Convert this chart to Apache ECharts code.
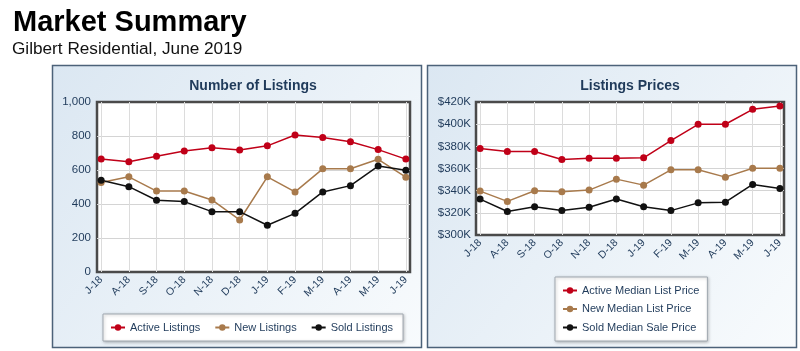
<!DOCTYPE html>
<html>
<head>
<meta charset="utf-8">
<script src="https://cdn.jsdelivr.net/npm/echarts@6/dist/echarts.min.js"></script>
<style>
  html, body { margin: 0; padding: 0; background: #fff; }
  #main { width: 800px; height: 351px; }
</style>
</head>
<body>
<div id="main"></div>
<script>
const months = ["J-18", "A-18", "S-18", "O-18", "N-18", "D-18", "J-19", "F-19", "M-19", "A-19", "M-19", "J-19"];

const activeListings = [664, 648, 681, 712, 731, 717, 742, 806, 791, 766, 720, 664];
const newListings = [527, 560, 476, 476, 424, 306, 560, 471, 607, 607, 663, 558];
const soldListings = [540, 502, 422, 414, 355, 355, 275, 345, 471, 508, 623, 598];

const activePrice = [378, 375.3, 375.3, 368.1, 369.3, 369.3, 369.6, 385.2, 399.9, 399.9, 413.4, 416.4];
const newPrice = [339.6, 330.3, 339.9, 339, 340.5, 350.4, 345, 358.8, 358.8, 352.2, 360.3, 360.3];
const soldPrice = [332.4, 321.2, 325.5, 322, 325, 332.4, 325.5, 322, 329, 329.6, 345.6, 342];

const RED = "#c00018";
const BROWN = "#a87a4c";
const BLACK = "#111111";
const NAVY = "#1f3a5a";
const FONT = "Liberation Sans";

const idx = months.map((m, i) => i);
const pairs = (arr) => arr.map((v, i) => [i, v]);

const chart = echarts.init(document.getElementById("main"));

function panel(x) {
  return {
    type: "rect",
    shape: { x: x, y: 65.5, width: 369, height: 282 },
    style: {
      fill: new echarts.graphic.LinearGradient(0, 0, 1, 1, [
        { offset: 0, color: "#dbe7f2" },
        { offset: 1, color: "#f8fbfd" },
      ]),
      stroke: "#4c6279",
      lineWidth: 1.5,
    },
    z: -10,
  };
}

function xAxisFor(grid) {
  return {
    type: "value",
    gridIndex: grid,
    min: -0.15,
    max: 11.15,
    axisLine: { show: false },
    axisTick: { show: false, customValues: idx },
    splitLine: { show: true, lineStyle: { color: "#dcdcdc" } },
    axisLabel: {
      customValues: idx,
      rotate: 45,
      color: NAVY,
      fontFamily: FONT,
      fontSize: 10.5,
      margin: 6,
      formatter: (v) => months[Math.round(v)],
    },
  };
}

function line(name, data, color, x, y) {
  return {
    name: name,
    type: "line",
    xAxisIndex: x,
    yAxisIndex: y,
    data: pairs(data),
    symbol: "circle",
    symbolSize: 7,
    lineStyle: { color: color, width: 1.5 },
    itemStyle: { color: color },
  };
}

const legendStyle = {
  backgroundColor: "#ffffff",
  borderColor: "#a0a8b0",
  borderWidth: 1,
  shadowColor: "rgba(0,0,0,0.25)",
  shadowBlur: 3,
  shadowOffsetX: 1,
  shadowOffsetY: 1,
  itemWidth: 14,
  itemHeight: 8,
  textStyle: { color: NAVY, fontFamily: FONT, fontSize: 11 },
};

const option = {
  animation: false,
  textStyle: { fontFamily: FONT },
  graphic: [panel(52.5), panel(427.5)],
  title: [
    {
      text: "Market Summary",
      left: 8,
      top: 3,
      textStyle: { fontSize: 29, fontWeight: "bold", color: "#000", fontFamily: FONT },
    },
    {
      text: "Gilbert Residential, June 2019",
      left: 7,
      top: 36,
      textStyle: { fontSize: 17.2, fontWeight: "normal", color: "#111", fontFamily: FONT },
    },
    {
      text: "Number of Listings",
      left: 248,
      textAlign: "center",
      top: 74,
      textStyle: { fontSize: 14, fontWeight: "bold", color: NAVY, fontFamily: FONT },
    },
    {
      text: "Listings Prices",
      left: 625,
      textAlign: "center",
      top: 74,
      textStyle: { fontSize: 14, fontWeight: "bold", color: NAVY, fontFamily: FONT },
    },
  ],
  grid: [
    { left: 97, top: 102, width: 313, height: 170, show: true, backgroundColor: "#fff", borderColor: "#4a4a4a", borderWidth: 2.5 },
    { left: 476, top: 102, width: 308, height: 133, show: true, backgroundColor: "#fff", borderColor: "#4a4a4a", borderWidth: 2.5 },
  ],
  xAxis: [xAxisFor(0), xAxisFor(1)],
  yAxis: [
    {
      type: "value",
      gridIndex: 0,
      min: 0,
      max: 1000,
      interval: 200,
      axisLine: { show: false },
      axisTick: { show: false },
      splitLine: { showMinLine: false, showMaxLine: false, lineStyle: { color: "#d4d4d4" } },
      axisLabel: {
        color: NAVY,
        fontFamily: FONT,
        fontSize: 11.5,
        margin: 6,
        formatter: (v) => v.toLocaleString("en-US"),
      },
    },
    {
      type: "value",
      gridIndex: 1,
      min: 300,
      max: 420,
      interval: 20,
      axisLine: { show: false },
      axisTick: { show: false },
      splitLine: { showMinLine: false, showMaxLine: false, lineStyle: { color: "#d4d4d4" } },
      axisLabel: {
        color: NAVY,
        fontFamily: FONT,
        fontSize: 11.5,
        margin: 5,
        formatter: (v) => "$" + v + "K",
      },
    },
  ],
  legend: [
    Object.assign({}, legendStyle, {
      data: ["Active Listings", "New Listings", "Sold Listings"],
      orient: "horizontal",
      left: 103,
      top: 314,
      padding: [8, 10, 8, 7],
      itemGap: 14,
    }),
    Object.assign({}, legendStyle, {
      data: ["Active Median List Price", "New Median List Price", "Sold Median Sale Price"],
      orient: "vertical",
      left: 555,
      top: 277,
      padding: [8, 8, 8, 7],
      itemGap: 7.5,
    }),
  ],
  series: [
    line("Active Listings", activeListings, RED, 0, 0),
    line("New Listings", newListings, BROWN, 0, 0),
    line("Sold Listings", soldListings, BLACK, 0, 0),
    line("Active Median List Price", activePrice, RED, 1, 1),
    line("New Median List Price", newPrice, BROWN, 1, 1),
    line("Sold Median Sale Price", soldPrice, BLACK, 1, 1),
  ],
};

chart.setOption(option);
</script>
</body>
</html>
